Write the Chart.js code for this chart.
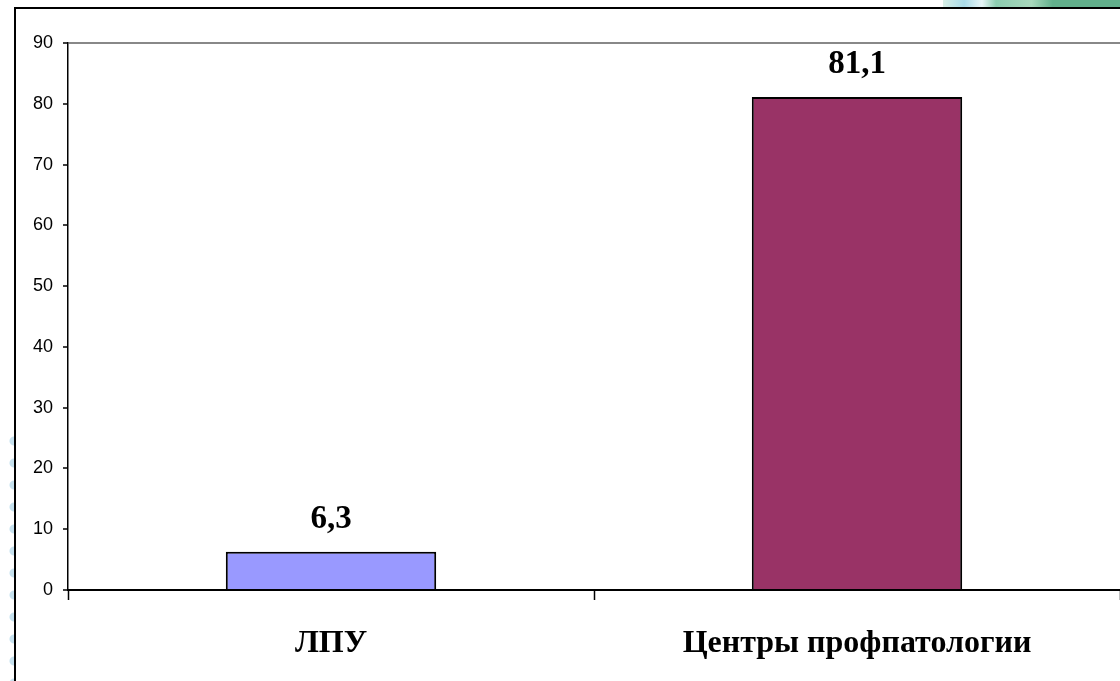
<!DOCTYPE html>
<html>
<head>
<meta charset="utf-8">
<script src="https://cdn.jsdelivr.net/npm/chart.js@4.4.0/dist/chart.umd.min.js"></script>
<style>
  body { margin: 0; background: #fff; overflow: hidden; }
  #wrap { position: relative; width: 1120px; height: 681px; }
  #band { position: absolute; left: 943px; top: 0; width: 177px; height: 7px;
    background: linear-gradient(to right, #d8efe6 0%, #a9dbe8 12%, #e8f6f8 22%, #8ccdb0 30%, #a8d8bc 50%, #62b08c 62%, #62b08c 100%); }
  #dots { position: absolute; left: 6px; top: 430px; width: 10px; height: 251px;
    background: radial-gradient(circle at 8px 11px, #c6e1ee 0 4px, transparent 5px) 0 0 / 10px 22px repeat-y; }
  canvas { position: absolute; left: 0; top: 0; }
</style>
</head>
<body>
<div id="wrap">
  <div id="band"></div>
  <div id="dots"></div>
  <canvas id="graph" width="1120" height="681"></canvas>
</div>
<script>
// data
const categories = ['ЛПУ', 'Центры профпатологии'];
const values = [6.3, 81.1];
const barColors = ['#9999ff', '#993366'];
const yTicks = [0, 10, 20, 30, 40, 50, 60, 70, 80, 90];

// outer frame of the chart object, like the pasted excel chart
const framePlugin = {
  id: 'frame',
  afterDraw(chart) {
    const ctx = chart.ctx;
    ctx.save();
    ctx.strokeStyle = '#000';
    ctx.lineWidth = 2;
    ctx.beginPath();
    ctx.moveTo(15, 700);
    ctx.lineTo(15, 8);
    ctx.lineTo(1130, 8);
    ctx.stroke();
    ctx.restore();
  }
};

// value labels over the bars (comma as decimal sign)
const labelPlugin = {
  id: 'valueLabels',
  afterDatasetsDraw(chart) {
    const ctx = chart.ctx;
    const meta = chart.getDatasetMeta(0);
    ctx.save();
    ctx.font = 'bold 33px "Liberation Serif", "Times New Roman", serif';
    ctx.fillStyle = '#000';
    ctx.textAlign = 'center';
    ctx.textBaseline = 'alphabetic';
    meta.data.forEach((bar, i) => {
      const txt = values[i].toFixed(1).replace('.', ',');
      ctx.fillText(txt, bar.x, bar.y - 24);
    });
    ctx.restore();
  }
};

new Chart('graph', {
  type: 'bar',
  data: {
    labels: categories,
    datasets: [{
      data: values,
      backgroundColor: barColors,
      borderColor: '#000',
      borderWidth: 2,
      categoryPercentage: 1,
      barPercentage: 0.4
    }]
  },
  options: {
    responsive: false,
    animation: false,
    events: [],
    layout: { padding: { top: 43, left: 0, right: 0, bottom: 0 } },
    plugins: { legend: { display: false }, tooltip: { enabled: false } },
    scales: {
      x: {
        offset: true,
        grid: { offset: true, drawOnChartArea: false, tickLength: 10, tickColor: '#000', tickWidth: 1.5 },
        border: { color: '#000', width: 2 },
        ticks: {
          color: '#000',
          padding: 25,
          font: { family: '"Liberation Serif", "Times New Roman", serif', size: 32, weight: 'bold' }
        },
        afterFit(scale) { scale.height = 91; }
      },
      y: {
        min: 0,
        max: 90,
        afterBuildTicks(scale) { scale.ticks = yTicks.map(v => ({ value: v })); },
        grid: {
          color: ctx => (ctx.tick && ctx.tick.value === 90 ? '#888' : 'rgba(0,0,0,0)'),
          lineWidth: 2,
          tickColor: '#000',
          tickLength: 5,
          tickWidth: 1.5
        },
        border: { color: '#000', width: 1.5 },
        ticks: {
          color: '#000',
          padding: 10,
          font: { family: '"Liberation Sans", Arial, sans-serif', size: 18 }
        },
        afterFit(scale) { scale.width = 68; }
      }
    }
  },
  plugins: [framePlugin, labelPlugin]
});
</script>
</body>
</html>
